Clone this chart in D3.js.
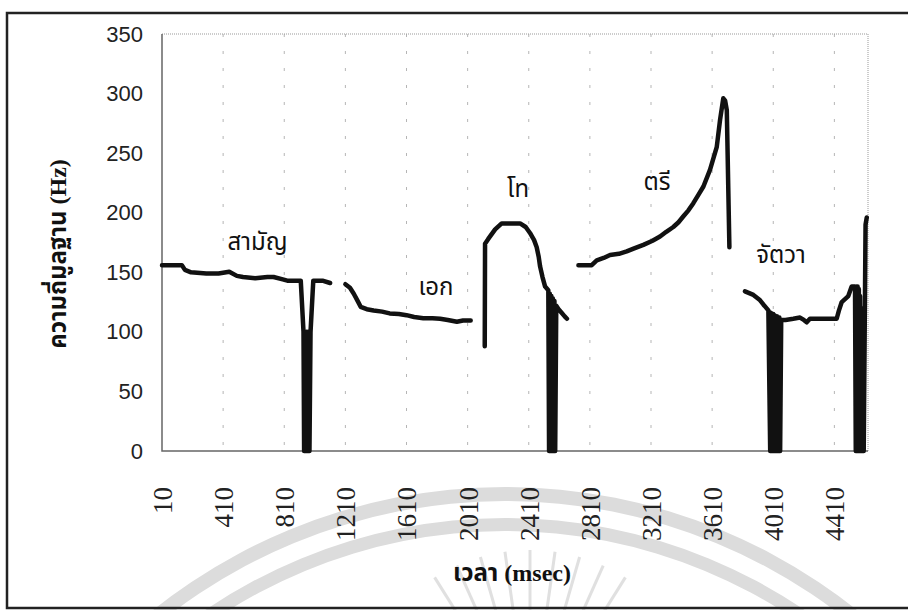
<!DOCTYPE html>
<html>
<head>
<meta charset="utf-8">
<script src="https://cdn.jsdelivr.net/npm/d3@7"></script>
<style>
    body { margin: 0; background: #fff; }
    .tone { font-family: "Noto Sans Thai", Tahoma, "DejaVu Sans", sans-serif; font-size: 24px; fill: #111; }
    .title { font-family: "Liberation Serif", "Noto Sans Thai", serif; font-weight: bold; fill: #111; }
</style>
</head>
<body>
<div id="chart"></div>
<script>
// tick labels
var xTicks = [10, 410, 810, 1210, 1610, 2010, 2410, 2810, 3210, 3610, 4010, 4410];
var yTicks = [0, 50, 100, 150, 200, 250, 300, 350];

// each tone: time (msec) and fundamental frequency (Hz)
var samanT = [10, 140, 160, 200, 300, 380, 450, 500, 540, 620, 700, 740, 800, 830, 918, 936, 940, 945, 950, 955, 960, 965, 970, 975, 982, 1000, 1060, 1110];
var samanHz = [156, 156, 152, 150, 149, 149, 150.5, 147, 146, 145, 146, 146, 144, 143, 143, 100, 0, 100, 0, 100, 0, 100, 0, 0, 100, 143, 143, 141];

var ekT = [1210, 1240, 1265, 1290, 1310, 1350, 1395, 1450, 1500, 1560, 1610, 1660, 1720, 1780, 1830, 1880, 1940, 1980, 2030];
var ekHz = [140, 137, 132, 126, 121, 119, 118, 117, 115.5, 115, 114, 112.5, 111.5, 111.5, 111, 110, 108.5, 109.5, 109.5];

var thoT = [2122, 2124, 2145, 2190, 2233, 2353, 2390, 2418, 2445, 2462, 2475, 2484, 2500, 2517, 2538, 2543, 2548, 2553, 2558, 2563, 2568, 2573, 2578, 2583, 2590, 2605, 2625, 2645, 2660];
var thoHz = [88, 174, 178, 186, 191, 191, 188, 183, 177, 171, 163, 155, 146, 138, 135, 0, 132, 0, 130, 0, 128, 0, 126, 0, 122, 119, 116, 113, 111];

var triT = [2735, 2822, 2855, 2900, 2942, 3000, 3051, 3100, 3160, 3220, 3269, 3310, 3356, 3390, 3422, 3455, 3487, 3520, 3553, 3596, 3640, 3662, 3683, 3695, 3706, 3723];
var triHz = [156, 156, 160, 162, 164.5, 165.5, 167.5, 170, 173, 176.5, 180, 184, 188, 192, 197, 202, 208, 215, 222, 236, 255, 278, 296, 294, 286, 171];

var jatT = [3825, 3880, 3920, 3945, 3978, 3990, 3994, 3998, 4002, 4006, 4010, 4014, 4018, 4022, 4026, 4030, 4034, 4038, 4042, 4046, 4050, 4055, 4062, 4090, 4141, 4185, 4210, 4229, 4250, 4272, 4425, 4440, 4458, 4501, 4523, 4545, 4550, 4554, 4558, 4562, 4566, 4570, 4574, 4578, 4582, 4586, 4590, 4602, 4614, 4622];
var jatHz = [134, 131, 127, 123, 118, 0, 116, 0, 115, 0, 115, 0, 114, 0, 113, 0, 113, 0, 112, 0, 112, 0, 110, 110, 111, 112, 110, 108, 111, 111, 111, 118, 125, 130, 138, 138, 0, 138, 0, 138, 0, 136, 0, 130, 0, 120, 0, 0, 190, 196];

var toneNames = ["สามัญ", "เอก", "โท", "ตรี", "จัตวา"];
var toneLabelT = [635, 1803, 2340, 3249, 4061];
var toneLabelHz = [169, 131, 213, 219, 158];

var width = 908, height = 610;
var margin = { top: 34, right: 40, bottom: 159, left: 162 };

var svg = d3.select("#chart")
    .append("svg")
    .attr("width", width)
    .attr("height", height);

// faint watermark of the scanned page
var wm = svg.append("g");
var arc = d3.arc();
[[551, 565], [521, 534]].forEach(function (r) {
    wm.append("path")
        .attr("transform", "translate(505,1052)")
        .attr("fill", "#dcdcdc")
        .attr("d", arc({ innerRadius: r[0], outerRadius: r[1], startAngle: -Math.PI / 2, endAngle: Math.PI / 2 }));
});
d3.range(-32, 33, 8).forEach(function (a) {
    var rad = a * Math.PI / 180;
    wm.append("line")
        .attr("x1", 530 + 120 * Math.sin(rad)).attr("y1", 730 - 120 * Math.cos(rad))
        .attr("x2", 530 + 180 * Math.sin(rad)).attr("y2", 730 - 180 * Math.cos(rad))
        .attr("stroke", "#e0e0e0")
        .attr("stroke-width", 3);
});

// page frame
svg.append("rect")
    .attr("x", 7).attr("y", 13)
    .attr("width", 1000).attr("height", 595)
    .attr("fill", "none")
    .attr("stroke", "#222")
    .attr("stroke-width", 2.5);

var x = d3.scaleLinear()
    .domain([10, 4630])
    .range([margin.left, width - margin.right]);

var y = d3.scaleLinear()
    .domain([0, 350])
    .range([height - margin.bottom, margin.top]);

// vertical dashed gridlines
svg.append("g")
    .selectAll("line")
    .data(xTicks.slice(1))
    .enter().append("line")
    .attr("x1", function (d) { return x(d); })
    .attr("x2", function (d) { return x(d); })
    .attr("y1", y(350))
    .attr("y2", y(0) + 6)
    .attr("stroke", "#b5b5b5")
    .attr("stroke-dasharray", "3,14");

// top and right border (dotted)
svg.append("path")
    .attr("d", "M" + x(10) + "," + y(350) + "H" + x(4630) + "V" + y(0))
    .attr("fill", "none")
    .attr("stroke", "#999")
    .attr("stroke-dasharray", "1,1");

// left and bottom axis lines
svg.append("path")
    .attr("d", "M" + x(10) + "," + y(350) + "V" + y(0) + "H" + x(4630))
    .attr("fill", "none")
    .attr("stroke", "#666")
    .attr("stroke-width", 1.5);

var yAxis = svg.append("g")
    .attr("transform", "translate(" + margin.left + ",0)")
    .call(d3.axisLeft(y).tickValues(yTicks).tickSize(0).tickPadding(19));
yAxis.select(".domain").remove();
yAxis.selectAll("text")
    .style("font-family", "'Liberation Sans', Arial, sans-serif")
    .style("font-size", "22px")
    .style("fill", "#222");

var xAxis = svg.append("g")
    .attr("transform", "translate(0," + y(0) + ")")
    .call(d3.axisBottom(x).tickValues(xTicks).tickSize(0).tickFormat(d3.format("d")));
xAxis.select(".domain").remove();
xAxis.selectAll("text")
    .attr("transform", "rotate(-90)")
    .attr("x", -36)
    .attr("y", 0)
    .attr("dy", "0.35em")
    .style("text-anchor", "end")
    .style("font-family", "'Liberation Serif', 'Times New Roman', serif")
    .style("font-size", "27px")
    .style("fill", "#222");

// the five tone contours
var line = d3.line()
    .x(function (d) { return x(d[0]); })
    .y(function (d) { return y(d[1]); });

var tones = [[samanT, samanHz], [ekT, ekHz], [thoT, thoHz], [triT, triHz], [jatT, jatHz]];
svg.append("g")
    .selectAll("path")
    .data(tones)
    .enter().append("path")
    .attr("d", function (d) { return line(d3.zip(d[0], d[1])); })
    .attr("fill", "none")
    .attr("stroke", "#111")
    .attr("stroke-width", 4.5)
    .attr("stroke-linejoin", "round")
    .attr("stroke-linecap", "round");

svg.append("g")
    .selectAll("text")
    .data(toneNames)
    .enter().append("text")
    .attr("class", "tone")
    .attr("x", function (d, i) { return x(toneLabelT[i]); })
    .attr("y", function (d, i) { return y(toneLabelHz[i]); })
    .attr("text-anchor", "middle")
    .text(function (d) { return d; });

// axis titles
svg.append("text")
    .attr("class", "title")
    .attr("transform", "translate(66,254) rotate(-90)")
    .attr("text-anchor", "middle")
    .style("font-size", "24px")
    .text("ความถี่มูลฐาน (Hz)");

svg.append("text")
    .attr("class", "title")
    .attr("x", 512)
    .attr("y", 581)
    .attr("text-anchor", "middle")
    .style("font-size", "24px")
    .text("เวลา (msec)");
</script>
</body>
</html>
